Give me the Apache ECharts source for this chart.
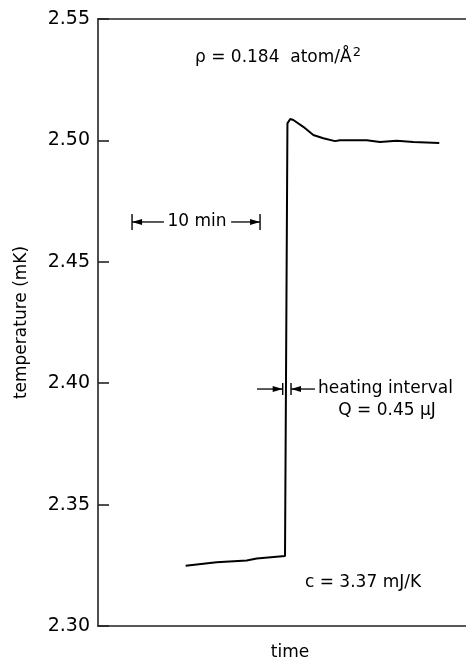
<!DOCTYPE html>
<html lang="en">
<head>
<meta charset="UTF-8">
<title>temperature vs time</title>
<script src="https://cdn.jsdelivr.net/npm/echarts@6/dist/echarts.min.js"></script>
<style>
  html, body { margin: 0; padding: 0; background: #fff; }
  #chart { width: 466px; height: 657px; }
</style>
</head>
<body>
<div id="chart"></div>
<script>
// time in minutes, temperature in mK
var times = [6.85, 9.27, 11.62, 12.40, 14.61, 14.74, 14.80, 15.02, 15.26, 16.04, 16.82, 17.60, 18.52, 18.90, 21.00, 22.03, 23.34, 24.63, 26.66];
var temps = [2.3248, 2.3263, 2.3270, 2.3278, 2.3288, 2.3292, 2.5070, 2.5088, 2.5084, 2.5056, 2.5022, 2.5009, 2.4997, 2.5001, 2.5001, 2.4993, 2.4999, 2.4993, 2.4989];
var yTicks = [2.30, 2.35, 2.40, 2.45, 2.50, 2.55];

var FONT = 'DejaVu Sans';
var INK = '#000';

var dom = document.getElementById('chart');
var myChart = echarts.init(dom, null, { renderer: 'canvas' });

var points = times.map(function (t, i) { return [t, temps[i]]; });

var option = {
  animation: false,
  grid: { left: 98, top: 19, right: 0, bottom: 31, outerBoundsMode: 'none', containLabel: false },
  xAxis: [
    {
      type: 'value', min: 0, max: 28.75, position: 'bottom',
      name: 'time', nameLocation: 'middle', nameGap: 18,
      nameTextStyle: { fontFamily: FONT, fontSize: 17, color: INK, padding: [0, 0, 0, 16] },
      axisLine: { show: true, lineStyle: { color: '#222', width: 1.6 } },
      axisTick: { show: false }, axisLabel: { show: false }, splitLine: { show: false }
    },
    {
      type: 'value', min: 0, max: 28.75, position: 'top',
      axisLine: { show: true, lineStyle: { color: '#222', width: 1.6 } },
      axisTick: { show: false }, axisLabel: { show: false }, splitLine: { show: false }
    }
  ],
  yAxis: {
    type: 'value', min: yTicks[0], max: yTicks[yTicks.length - 1], interval: 0.05,
    name: 'temperature (mK)', nameLocation: 'middle', nameGap: 68,
    nameTextStyle: { fontFamily: FONT, fontSize: 17, color: INK },
    axisLine: { show: true, lineStyle: { color: '#222', width: 1.6 } },
    axisTick: { show: true, inside: true, length: 11, lineStyle: { color: '#222', width: 1.6 } },
    axisLabel: {
      margin: 8, fontFamily: FONT, fontSize: 19, color: INK,
      formatter: function (v) { return v.toFixed(2); }
    },
    splitLine: { show: false }
  },
  series: [{
    type: 'line',
    data: points,
    symbol: 'none',
    lineStyle: { color: INK, width: 2 }
  }]
};

myChart.setOption(option);

function px(t, v) {
  return myChart.convertToPixel({ xAxisIndex: 0, yAxisIndex: 0 }, [t, v]);
}

function text(p, str, align, size) {
  return {
    type: 'text', x: p[0], y: p[1],
    style: {
      text: str, fontFamily: FONT, fontSize: size || 17, fill: INK,
      align: align || 'center', verticalAlign: 'middle'
    }
  };
}
function seg(a, b, w) {
  return { type: 'line', shape: { x1: a[0], y1: a[1], x2: b[0], y2: b[1] }, style: { stroke: INK, lineWidth: w || 1.3 } };
}
function head(tip, dir) {
  // filled arrowhead, dir = -1 points left, 1 points right
  return {
    type: 'polygon',
    shape: { points: [[tip[0], tip[1]], [tip[0] - dir * 10, tip[1] - 3], [tip[0] - dir * 10, tip[1] + 3]] },
    style: { fill: INK }
  };
}

var els = [];

// density label
var pr = px(14.06, 2.5343);
els.push({
  type: 'text', x: pr[0], y: pr[1],
  style: {
    text: '{a|ρ = 0.184  atom/Å}{s|2}', align: 'center', verticalAlign: 'middle',
    rich: {
      a: { fontFamily: FONT, fontSize: 17, fill: INK },
      s: { fontFamily: FONT, fontSize: 13, fill: INK, verticalAlign: 'top', padding: [0, 0, 8, 1] }
    }
  }
});

// 10 min scale bar
var tv = 2.4664;
var l0 = px(2.66, tv), l1 = px(5.15, tv), r0 = px(10.4, tv), r1 = px(12.66, tv);
els.push(seg([l0[0], l0[1] - 8], [l0[0], l0[1] + 8], 1.4));
els.push(seg([r1[0], r1[1] - 8], [r1[0], r1[1] + 8], 1.4));
els.push(seg(l0, l1), seg(r0, r1));
els.push(head(l0, -1), head(r1, 1));
els.push(text(px(7.73, tv), '10 min'));

// heating interval marker
var hv = 2.3976;
var b0 = px(14.43, hv), b1 = px(15.08, hv);
els.push(seg([b0[0], b0[1] - 6], [b0[0], b0[1] + 6], 1.4));
els.push(seg([b1[0], b1[1] - 6], [b1[0], b1[1] + 6], 1.4));
els.push(seg(px(12.42, hv), b0), seg(b1, px(16.95, hv)));
els.push(head(b0, 1), head(b1, -1));
els.push(text(px(17.19, hv), 'heating interval', 'left'));
els.push(text(px(22.58, 2.3889), 'Q = 0.45 μJ'));

// heat capacity
els.push(text(px(16.17, 2.318), 'c = 3.37 mJ/K', 'left'));

myChart.setOption({ graphic: els });
</script>
</body>
</html>
